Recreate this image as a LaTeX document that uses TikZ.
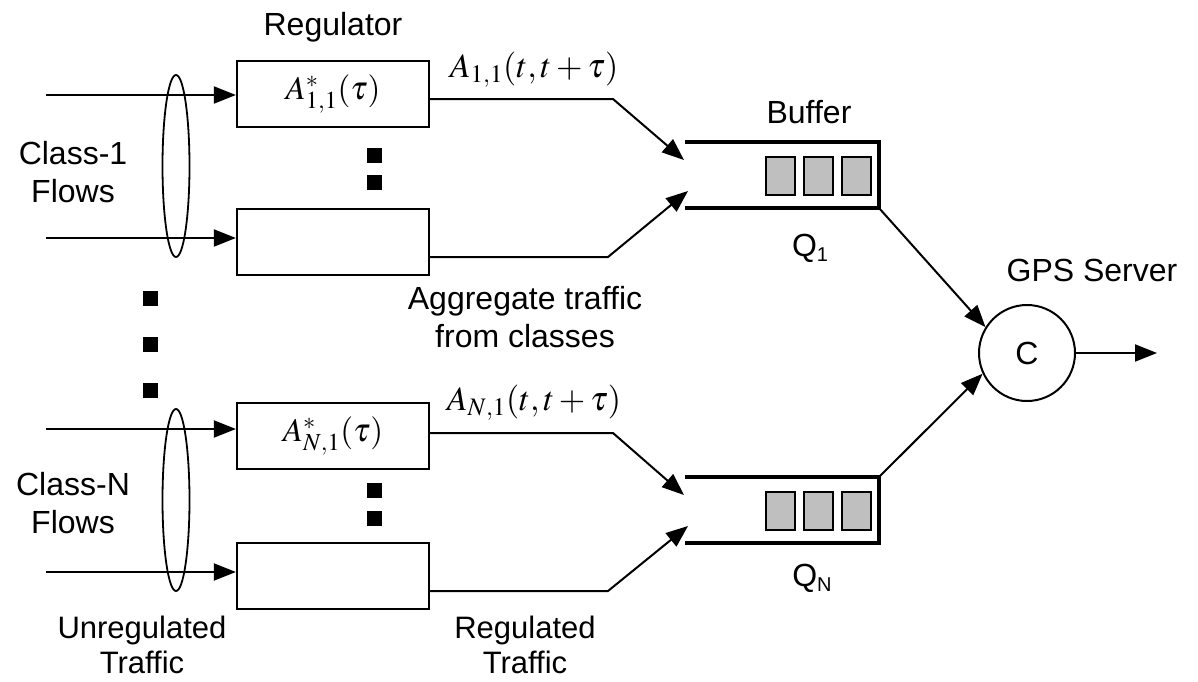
\documentclass[tikz,border=0pt]{standalone}
\usepackage{mathptmx}
\usepackage{fontspec}
\setmainfont{Liberation Sans}
\usetikzlibrary{arrows.meta,shapes.geometric,calc}
\begin{document}
\begin{tikzpicture}[x=1pt,y=-1pt,
  lbl/.style={font=\fontsize{32}{38}\selectfont, inner sep=0pt, align=center},
  lblb/.style={font=\fontsize{31}{35}\selectfont, inner sep=0pt, align=center},
  mth/.style={font=\fontsize{34}{38}\selectfont, inner sep=0pt},
  regbox/.style={draw, line width=2.2pt, minimum width=192pt, minimum height=66pt, inner sep=0pt, font=\fontsize{33}{36}\selectfont},
  dotsq/.style={fill=black, minimum size=15pt, inner sep=0pt},
  ell/.style={draw, ellipse, line width=1.8pt, minimum width=27pt, minimum height=182pt, inner sep=0pt},
  cell/.style={draw, line width=2pt, fill=black!25, minimum width=29pt, minimum height=38pt, inner sep=0pt},
  arr/.style={line width=2pt, -{Triangle[length=22pt,width=17pt]}},
  buf/.style={line width=3.5pt}
]
\useasboundingbox (0,0) rectangle (1198,681);

% regulator boxes
\node[regbox] (r11) at (333,94) {$A^{*}_{1,1}(\tau)$};
\node[regbox] (r12) at (333,242) {};
\node[regbox] (rN1) at (333,436) {$A^{*}_{N,1}(\tau)$};
\node[regbox] (rN2) at (333,576) {};

% labels
\node[lbl] (tReg) at (333,27) {Regulator};
\node[lbl] (tC1) at (73,172) {Class-1\\Flows};
\node[lbl] (tCN) at (73,503) {Class-N\\Flows};
\node[lblb] (tUn) at (142,645) {Unregulated\\Traffic};
\node[lblb] (tRe) at (525,645) {Regulated\\Traffic};
\node[lbl] (tAg) at (525,317) {Aggregate traffic\\from classes};
\node[lbl] (tBuf) at (809,112) {Buffer};
\node[lbl] (tQ1) at (810,248) {Q\raisebox{-0.3ex}{\fontsize{20}{20}\selectfont 1}};
\node[lbl] (tQN) at (812,578) {Q\raisebox{-0.3ex}{\fontsize{20}{20}\selectfont N}};
\node[lbl] (tGPS) at (1092,270) {GPS Server};
\node[mth] (tA1) at (534,70) {$A_{1,1}(t,t+\tau)$};
\node[mth] (tAN) at (534,403) {$A_{N,1}(t,t+\tau)$};

% ellipses
\node[ell] (e1) at (176,166) {};
\node[ell] (eN) at (176,500) {};

% input arrows
\coordinate (i11) at (46,95);
\coordinate (i12) at (46,238);
\coordinate (iN1) at (46,429);
\coordinate (iN2) at (46,572);
\draw[arr] (i11) -- (i11 -| r11.west);
\draw[arr] (i12) -- (i12 -| r12.west);
\draw[arr] (iN1) -- (iN1 -| rN1.west);
\draw[arr] (iN2) -- (iN2 -| rN2.west);

% dots
\node[dotsq] (d1a) at (374,155) {};
\node[dotsq] (d1b) at (374,182) {};
\node[dotsq] (dNa) at (374,490) {};
\node[dotsq] (dNb) at (374,518) {};
\node[dotsq] (dLa) at (150,298) {};
\node[dotsq] (dLb) at (150,344) {};
\node[dotsq] (dLc) at (150,390) {};

% buffers
\coordinate (b1tl) at (685,142);
\coordinate (b1tr) at (879,142);
\coordinate (b1br) at (879,208);
\coordinate (b1bl) at (685,208);
\draw[buf] (b1tl) -- (b1tr) -- (b1br) -- (b1bl);
\node[cell] (c11) at (780,176) {};
\node[cell] (c12) at (818,176) {};
\node[cell] (c13) at (856,176) {};

\coordinate (bNtl) at (685,477);
\coordinate (bNtr) at (879,477);
\coordinate (bNbr) at (879,543);
\coordinate (bNbl) at (685,543);
\draw[buf] (bNtl) -- (bNtr) -- (bNbr) -- (bNbl);
\node[cell] (cN1) at (780,511) {};
\node[cell] (cN2) at (818,511) {};
\node[cell] (cN3) at (856,511) {};

% outputs of regulators
\coordinate (k11) at (613,99);
\coordinate (k12) at (608,257);
\coordinate (kN1) at (613,433);
\coordinate (kN2) at (608,591);
\coordinate (t11) at (684,160);
\coordinate (t12) at (688,191);
\coordinate (tN1) at (684,495);
\coordinate (tN2) at (688,526);
\draw[arr] (r11.east |- k11) -- (k11) -- (t11);
\draw[arr] (r12.east |- k12) -- (k12) -- (t12);
\draw[arr] (rN1.east |- kN1) -- (kN1) -- (tN1);
\draw[arr] (rN2.east |- kN2) -- (kN2) -- (tN2);

% server
\node[draw, circle, line width=2pt, minimum size=96pt, inner sep=0pt, font=\fontsize{32}{36}\selectfont] (srv) at (1027,353) {C};
\draw[arr] (b1br) -- (srv.148);
\draw[arr] (bNtr) -- (srv.205);
\coordinate (out) at (1157,353);
\draw[arr] (srv.east) -- (out);
\end{tikzpicture}
\end{document}
